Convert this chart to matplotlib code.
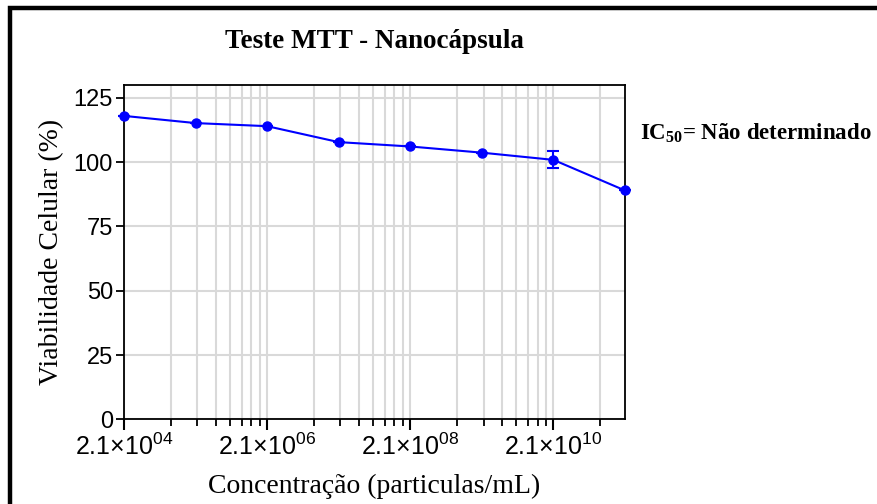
import numpy as np
import matplotlib
matplotlib.use("Agg")
import matplotlib.pyplot as plt
from matplotlib.patches import Rectangle
from matplotlib.ticker import FixedLocator, NullFormatter

plt.rcParams['mathtext.default'] = 'regular'

# data
conc = [2.1e4, 2.1e5, 2.1e6, 2.1e7, 2.1e8, 2.1e9, 2.1e10, 2.1e11]
viab = [118.0, 115.2, 114.0, 107.8, 106.1, 103.7, 100.9, 89.0]
err = [0.0, 0.0, 0.0, 0.0, 0.0, 0.0, 3.3, 0.0]

major_x = [2.1e4, 2.1e6, 2.1e8, 2.1e10]
major_labels = ['2.1×10$^{04}$', '2.1×10$^{06}$', '2.1×10$^{08}$', '2.1×10$^{10}$']
y_ticks = [0, 25, 50, 75, 100, 125]

sans = 'Liberation Sans'
serif = 'Liberation Serif'

fig = plt.figure(figsize=(8.78, 5.04), dpi=100)
ax = fig.add_axes([0.1412, 0.168, 0.5706, 0.6633])

# minor ticks like the original software: 7 per two-decade interval
minor_x = []
for base in major_x:
    for m in np.linspace(1, 10, 9)[1:-1]:
        v = base * m ** 2
        if v < 2.1e11:
            minor_x.append(v)

ax.set_xscale('log')
ax.set_xlim(2.1e4, 2.1e11)
ax.set_ylim(0, 130)
ax.xaxis.set_major_locator(FixedLocator(major_x))
ax.xaxis.set_minor_locator(FixedLocator(minor_x))
ax.xaxis.set_minor_formatter(NullFormatter())
ax.set_xticklabels(major_labels, fontsize=18, family=sans)
ax.set_yticks(y_ticks)
ax.set_yticklabels([str(v) for v in y_ticks], fontsize=17, family=sans)

ax.grid(True, which='both', axis='x', color='#d9d9d9', lw=1.5)
ax.grid(True, which='major', axis='y', color='#d9d9d9', lw=1.5)
ax.set_axisbelow(True)

ax.tick_params(axis='x', which='major', length=8, width=1.5, pad=2)
ax.tick_params(axis='x', which='minor', length=5, width=1.3)
ax.tick_params(axis='y', which='major', length=6, width=1.3, pad=2)
for s in ax.spines.values():
    s.set_linewidth(1.3)

ax.errorbar(conc, viab, yerr=err, color='#0000ff', lw=1.5, marker='o',
            markersize=6.5, capsize=4, elinewidth=1.5, capthick=1.5,
            clip_on=False, zorder=3)

ax.set_ylabel('Viabilidade Celular (%)', family=serif, fontsize=20, labelpad=7)
ax.set_xlabel('Concentração (particulas/mL)', family=serif, fontsize=20, labelpad=10)

fig.text(0.427, 0.918, 'Teste MTT - Nanocápsula', family=serif, weight='bold',
         fontsize=19.5, ha='center', va='center')
fig.text(0.729, 0.735, 'IC$_{50}$= Não determinado', family=serif, weight='bold',
         fontsize=16.5, ha='left', va='center')

# thick frame around the picture (cropped on right and bottom)
fig.patches.append(Rectangle((10 / 878, -0.1), 1.2, 1 - 8 / 504 + 0.1,
                             transform=fig.transFigure, fill=False,
                             edgecolor='black', lw=3.2))

fig.savefig('out.png', dpi=100)
